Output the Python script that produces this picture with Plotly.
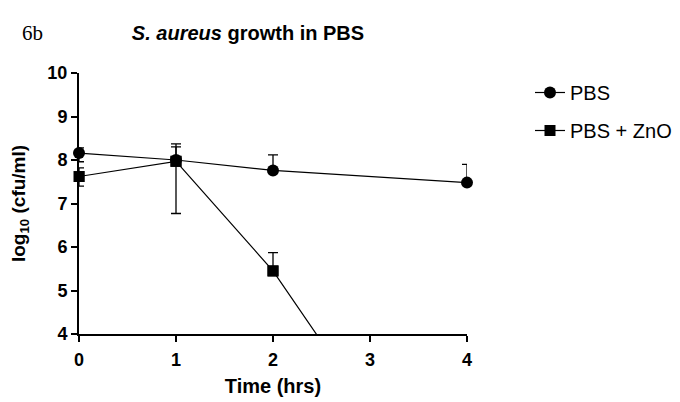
import plotly.graph_objects as go

time_pbs = [0, 1, 2, 4]
pbs_vals = [8.16, 8.00, 7.76, 7.48]
pbs_err_up = [0.12, 0.30, 0.36, 0.42]
pbs_err_dn = [0.20, 0.0, 0.0, 0.0]

time_zno = [0, 1, 2, 3]
zno_vals = [7.62, 7.97, 5.45, 2.2]
zno_err_up = [0.20, 0.40, 0.42, 0.0]
zno_err_dn = [0.22, 1.20, 0.0, 0.0]

Y_MIN, Y_MAX = 4, 10
FONT = "Arial, Liberation Sans, sans-serif"

# page body has an 8px default margin: figure is drawn 8px right/down
W, H = 672, 394
PL, PR, PT, PB = 71, 459, 65, 326  # plot area in figure pixels

fig = go.Figure()
fig.add_trace(go.Scatter(
    x=time_pbs, y=pbs_vals, name="PBS", mode="lines+markers",
    line=dict(color="black", width=1.2),
    marker=dict(symbol="circle", size=12, color="black"),
    error_y=dict(type="data", array=pbs_err_up, arrayminus=pbs_err_dn,
                 color="black", thickness=1.3, width=5),
    cliponaxis=False, legendgroup="a"))

# line (clipped at the axes) + legend entry
fig.add_trace(go.Scatter(
    x=time_zno, y=zno_vals, name="PBS + ZnO", mode="lines+markers",
    line=dict(color="black", width=1.2),
    marker=dict(symbol="square", size=11, color="black"),
    error_y=dict(type="data", array=zno_err_up, arrayminus=zno_err_dn,
                 color="black", thickness=1.3, width=5),
    cliponaxis=True, legendgroup="b"))
# visible markers drawn unclipped so they overlap the axis line
zno_visible = [v if Y_MIN <= v <= Y_MAX else None for v in zno_vals]
fig.add_trace(go.Scatter(
    x=time_zno, y=zno_visible, mode="markers", showlegend=False,
    marker=dict(symbol="square", size=11, color="black"),
    cliponaxis=False, legendgroup="b", hoverinfo="skip"))

axis_common = dict(showline=True, linewidth=2, linecolor="black",
                   ticks="outside", ticklen=6, tickwidth=2, tickcolor="black",
                   showgrid=False, zeroline=False, layer="below traces",
                   automargin=False,
                   tickfont=dict(family=FONT, size=18, color="black", weight="bold"))

pw = PR - PL
ph = PB - PT
fig.update_layout(
    width=W, height=H,
    margin=dict(l=PL, r=W - PR, t=PT, b=H - PB, pad=0, autoexpand=False),
    paper_bgcolor="white", plot_bgcolor="white",
    font=dict(family=FONT, color="black"),
    title=dict(text="<i>S. aureus</i> growth in PBS", x=(240 - PL) / pw, xref="paper",
               xanchor="center", y=1 - 25 / H, yanchor="middle",
               font=dict(family=FONT, size=20, color="black", weight="bold")),
    xaxis=dict(range=[0, 4], tickvals=[0, 1, 2, 3, 4],
               ticklabelstandoff=2,
               title=dict(text="Time (hrs)", standoff=10,
                          font=dict(family=FONT, size=20, color="black", weight="bold")),
               **axis_common),
    yaxis=dict(range=[Y_MIN, Y_MAX], tickvals=[4, 5, 6, 7, 8, 9, 10],
               title=dict(text="log<sub>10</sub> (cfu/ml)", standoff=18,
                          font=dict(family=FONT, size=19, color="black", weight="bold")),
               **axis_common),
    legend=dict(x=(522 - PL) / pw, y=1.0, xanchor="left", yanchor="top",
                font=dict(family=FONT, size=20, color="black"),
                tracegroupgap=9, bgcolor="rgba(0,0,0,0)"),
    showlegend=True,
)

fig.add_annotation(text="6b", xref="paper", yref="paper",
                   x=(24 - PL) / pw, y=(PB - 25) / ph, xanchor="center", yanchor="middle",
                   showarrow=False,
                   font=dict(family="Times New Roman, Liberation Serif, serif", size=21, color="black"))

fig.write_html("out.html")
